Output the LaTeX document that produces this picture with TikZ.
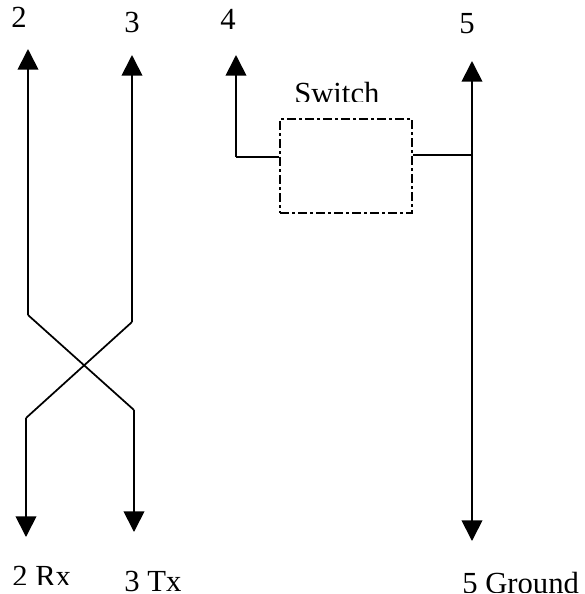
\documentclass[tikz,border=0pt]{standalone}
\usepackage{fontspec}
\setmainfont{Liberation Serif}
\usetikzlibrary{arrows.meta}
\tikzset{
  wire/.style={line width=1.3pt,-{Triangle[length=15.5pt,width=15.5pt]}},
  plain/.style={line width=1.3pt},
  labb/.style={inner sep=0pt,anchor=base west,font=\fontsize{23}{25}\selectfont},
  sw/.style={draw,line width=1.5pt,dash pattern=on 6.5pt off 2.5pt on 2pt off 2.5pt,minimum width=99pt,minimum height=70.5pt,inner sep=0pt}
}
\begin{document}
\begin{tikzpicture}[x=0.75pt,y=-0.75pt]
\useasboundingbox (0,0) rectangle (585,594);
\fill[white] (0,0) rectangle (585,594);
\node[labb] (n2) at (11,27) {2};
\node[labb] (n3) at (124,32) {3};
\node[labb] (n4) at (220,29) {4};
\node[labb] (n5) at (459,33) {5};
\begin{scope}
\clip (270,70) rectangle (400,101);
\node[labb] (swl) at (294,103) {Switch};
\end{scope}
\begin{scope}
\clip (0,560) rectangle (100,584);
\node[labb] (rx) at (12,586) {2 Rx};
\end{scope}
\node[labb] (tx) at (124,591) {3 Tx};
\begin{scope}
\clip (450,560) rectangle (585,592);
\node[labb] (gnd) at (462,593) {5 Ground};
\end{scope}
\node[sw] (box) at (346,166) {};
\coordinate (a2t) at (28,49);
\coordinate (a2m) at (28,315);
\coordinate (a2b) at (134,410);
\coordinate (a2e) at (134,532);
\coordinate (a3t) at (132,55);
\coordinate (a3m) at (132,322);
\coordinate (a3b) at (26,418);
\coordinate (a3e) at (26,537);
\coordinate (a4t) at (236,55);
\coordinate (a4m) at (236,157);
\coordinate (a5t) at (472,61);
\coordinate (a5b) at (472,541);
\coordinate (a5m) at (472,155);
\draw[wire] (a2m) -- (a2t);
\draw[plain] (a2m) -- (a2b);
\draw[wire] (a2b) -- (a2e);
\draw[wire] (a3m) -- (a3t);
\draw[plain] (a3m) -- (a3b);
\draw[wire] (a3b) -- (a3e);
\draw[wire] (a4m) -- (a4t);
\draw[plain] (a4m) -- (box.west |- a4m);
\draw[wire] (a5m) -- (a5t);
\draw[wire] (a5m) -- (a5b);
\draw[plain] (box.east |- a5m) -- (a5m);
\end{tikzpicture}
\end{document}
